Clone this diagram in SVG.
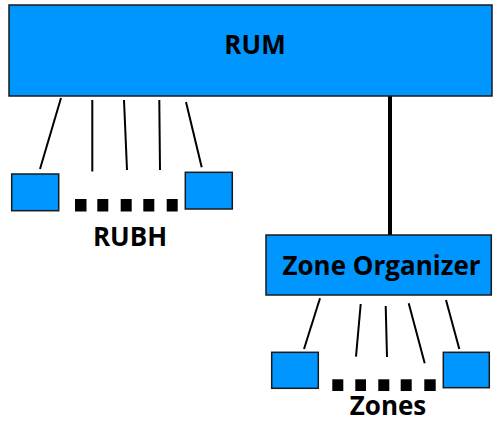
<svg xmlns="http://www.w3.org/2000/svg" width="498" height="429" viewBox="0 0 498 429">
<style>
.box{fill:#0096ff;stroke:#1a1a1a;stroke-width:1.5}
.lbl{font-family:"Open Sans","DejaVu Sans",sans-serif;font-weight:bold;font-size:26px;fill:#000;text-anchor:middle}
.ln{stroke:#000;stroke-width:2;fill:none}
.dot{fill:#000}
</style>
<rect width="498" height="429" fill="#fff"/>
<g id="connectors">
<line class="ln" x1="390" y1="96" x2="390" y2="235" style="stroke-width:4"/>
<line class="ln" x1="61" y1="98" x2="40" y2="169"/>
<line class="ln" x1="92.3" y1="100" x2="92.3" y2="171.5"/>
<line class="ln" x1="124" y1="100" x2="127" y2="170"/>
<line class="ln" x1="159.3" y1="100" x2="160" y2="170"/>
<line class="ln" x1="186" y1="102" x2="201.7" y2="167.3"/>
<line class="ln" x1="320" y1="298.3" x2="304" y2="349"/>
<line class="ln" x1="360.7" y1="304" x2="356" y2="356.7"/>
<line class="ln" x1="385.7" y1="306" x2="387" y2="357"/>
<line class="ln" x1="408.7" y1="303.3" x2="424.7" y2="363.3"/>
<line class="ln" x1="446" y1="300" x2="459.3" y2="349"/>
</g>
<g id="rum">
<rect class="box" x="9" y="5" width="483" height="91"/>
<text class="lbl" x="255" y="54">RUM</text>
</g>
<g id="rubh-left"><rect class="box" x="11.7" y="174" width="47" height="36.7"/></g>
<g id="rubh-right"><rect class="box" x="185.3" y="172.3" width="47" height="36.7"/></g>
<g id="rubh-dots">
<rect class="dot" x="75" y="199" width="11.5" height="12.5"/>
<rect class="dot" x="97.3" y="199" width="11" height="12.5"/>
<rect class="dot" x="120.7" y="199" width="11" height="12.5"/>
<rect class="dot" x="143.3" y="199" width="11" height="12.5"/>
<rect class="dot" x="166.7" y="199" width="11" height="12.5"/>
</g>
<g id="rubh-label"><text class="lbl" x="130" y="246">RUBH</text></g>
<g id="zone-organizer">
<rect class="box" x="266" y="235" width="225.3" height="60"/>
<text class="lbl" x="381.5" y="275">Zone Organizer</text>
</g>
<g id="zone-left"><rect class="box" x="271.7" y="352.3" width="46.6" height="36"/></g>
<g id="zone-right"><rect class="box" x="443.3" y="352.3" width="46" height="35.4"/></g>
<g id="zone-dots">
<rect class="dot" x="332.3" y="379.3" width="11" height="11.7"/>
<rect class="dot" x="355.3" y="379.3" width="10.7" height="11.7"/>
<rect class="dot" x="378.3" y="379.3" width="11" height="11.7"/>
<rect class="dot" x="400.7" y="379.3" width="11" height="11.7"/>
<rect class="dot" x="424.3" y="379.3" width="11.4" height="11.7"/>
</g>
<g id="zones-label"><text class="lbl" x="388" y="415">Zones</text></g>
</svg>
